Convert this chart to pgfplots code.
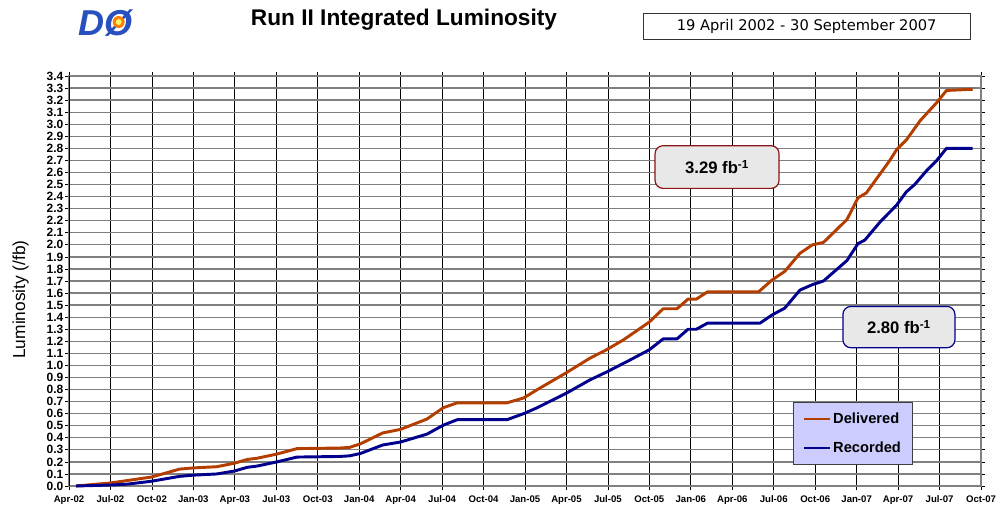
\documentclass[border=0pt]{standalone}
\usepackage{fontspec}
\setmainfont{Liberation Sans}
\newfontfamily\datefont{DejaVu Sans}
\usepackage{pgfplots}
\usepackage{pgfplotstable}
\pgfplotsset{compat=1.18}
\definecolor{deliv}{RGB}{180,62,0}
\definecolor{recd}{RGB}{0,0,140}
\definecolor{legfill}{RGB}{204,204,255}
\definecolor{boxfill}{RGB}{232,232,232}
\definecolor{boxred}{RGB}{140,20,20}
\definecolor{logoblue}{RGB}{40,80,190}
\definecolor{gridgray}{RGB}{128,128,128}

\pgfplotstableread{
m v
0.5 0.00
3.0 0.025
6.0 0.075
8.0 0.14
9.0 0.15
10.7 0.16
12.0 0.19
12.9 0.22
13.6 0.23
15.05 0.265
16.5 0.31
19.6 0.315
20.3 0.32
21.1 0.35
22.7 0.44
24.0 0.47
25.9 0.555
27.1 0.65
28.1 0.69
31.7 0.69
32.9 0.73
33.9 0.80
36.0 0.94
37.7 1.06
38.9 1.13
40.1 1.21
42.0 1.36
43.0 1.47
44.0 1.47
44.8 1.55
45.4 1.55
46.2 1.61
49.9 1.61
50.9 1.71
51.8 1.78
52.9 1.93
53.8 2.00
54.6 2.02
56.3 2.21
57.1 2.39
57.7 2.43
59.4 2.70
59.9 2.79
60.6 2.87
61.6 3.03
62.8 3.18
63.5 3.28
65.4 3.29
}\delivered

\pgfplotstableread{
m v
0.5 0.00
3.0 0.008
4.2 0.015
6.0 0.04
8.0 0.08
9.0 0.09
10.7 0.10
12.0 0.125
12.9 0.155
13.6 0.165
15.05 0.20
16.5 0.24
19.6 0.245
20.3 0.25
21.1 0.27
22.7 0.34
24.0 0.365
25.9 0.43
27.1 0.505
28.1 0.55
31.7 0.55
32.9 0.60
33.9 0.65
36.0 0.77
37.7 0.88
38.9 0.945
40.6 1.045
42.0 1.13
43.0 1.22
44.0 1.22
44.8 1.30
45.4 1.30
46.2 1.35
50.0 1.35
50.9 1.42
51.8 1.475
52.9 1.625
53.8 1.67
54.6 1.70
55.6 1.80
56.3 1.87
57.1 2.01
57.6 2.04
58.7 2.19
59.9 2.33
60.6 2.44
61.2 2.50
62.1 2.62
62.8 2.70
63.5 2.80
65.4 2.80
}\recorded

\begin{document}
\begin{tikzpicture}
\useasboundingbox (0,0) rectangle (747pt,381pt);
\begin{axis}[
  at={(51.75pt,16.5pt)}, anchor=south west,
  scale only axis, width=684pt, height=307.5pt,
  xmin=0, xmax=66, ymin=0, ymax=3.4,
  xtick={0,3,...,66},
  xticklabels={Apr-02,Jul-02,Oct-02,Jan-03,Apr-03,Jul-03,Oct-03,Jan-04,Apr-04,Jul-04,Oct-04,Jan-05,Apr-05,Jul-05,Oct-05,Jan-06,Apr-06,Jul-06,Oct-06,Jan-07,Apr-07,Jul-07,Oct-07},
  ytick distance=0.1,
  /pgf/number format/assume math mode=true,
  yticklabel style={/pgf/number format/fixed, /pgf/number format/fixed zerofill, /pgf/number format/precision=1,
    font=\fontsize{9}{9}\selectfont\bfseries, inner sep=1pt},
  xticklabel style={font=\fontsize{7.2}{7.5}\selectfont\bfseries, inner sep=0pt, anchor=base, yshift=-9.5pt},
  tick align=outside,
  major tick length=3pt,
  tick style={black, line width=0.5pt},
  xmajorgrids, ymajorgrids,
  x grid style={black, line width=0.55pt},
  y grid style={gridgray, line width=1pt},
  axis line style={gridgray, line width=1.1pt},
  ylabel={Luminosity (/fb)},
  ylabel style={font=\fontsize{13}{14}\selectfont, at={(ticklabel cs:0.455)}},
  ylabel shift=9pt,
  legend style={at={(rel axis cs:0.86,0.128)}, anchor=center, fill=legfill,
    draw=black!75, line width=0.6pt, font=\fontsize{11}{12}\selectfont\bfseries,
    inner xsep=7pt, inner ysep=5.5pt, row sep=8pt},
  legend cell align=left,
  legend image code/.code={\draw[#1, line width=1.6pt] (0pt,0pt) -- (19pt,0pt);},
  clip=false,
]
\addplot[deliv, line width=2.2pt, line join=round] table[x=m, y=v] {\delivered};
\addlegendentry{Delivered}
\addplot[recd, line width=2.2pt, line join=round] table[x=m, y=v] {\recorded};
\addlegendentry{Recorded}
\draw[black, line width=0.7pt] (rel axis cs:0,0) -- (rel axis cs:0,1);
\node[draw=boxred, line width=0.9pt, fill=boxfill, rounded corners=6pt,
  minimum width=93pt, minimum height=32pt, font=\fontsize{12.5}{12.5}\selectfont\bfseries]
  at (axis cs:46.9,2.645) {3.29 fb\textsuperscript{-1}};
\node[draw=recd, line width=0.9pt, fill=boxfill, rounded corners=6pt,
  minimum width=84pt, minimum height=31pt, font=\fontsize{12.5}{12.5}\selectfont\bfseries]
  at (axis cs:60.06,1.318) {2.80 fb\textsuperscript{-1}};
\end{axis}
% title
\node[font=\fontsize{17}{17}\selectfont\bfseries] at (303pt,366pt) {Run II Integrated Luminosity};
% date box
\node[draw=black!80, line width=0.7pt, minimum width=245pt, minimum height=19.5pt,
  font=\datefont\fontsize{11}{11}\selectfont] at (605pt,361.5pt) {19 April 2002 - 30 September 2007};
% logo
\node[font=\fontsize{27}{27}\selectfont\bfseries\itshape, text=logoblue] at (79pt,364pt) {D\O};
\fill[orange] (89pt,364.5pt) circle (4.5pt);
\fill[yellow!60!white] (89pt,364.5pt) circle (2.2pt);
\end{tikzpicture}
\end{document}
